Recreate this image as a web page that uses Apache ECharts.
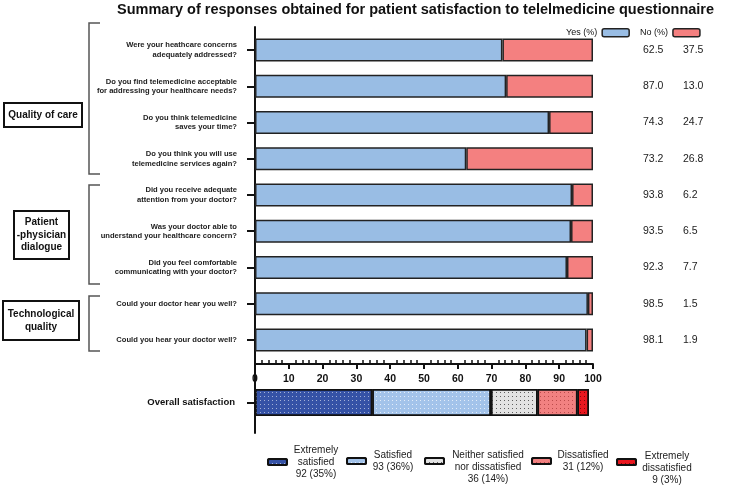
<!DOCTYPE html>
<html>
<head>
<meta charset="utf-8">
<script src="https://cdn.jsdelivr.net/npm/echarts@6/dist/echarts.min.js"></script>
<style>html,body{margin:0;padding:0;background:#fff}#c{width:750px;height:485px}</style>
</head>
<body>
<div id="c"></div>
<script>
var questions = [
  'Were your heathcare concerns\nadequately addressed?',
  'Do you find telemedicine acceptable\nfor addressing your healthcare needs?',
  'Do you think telemedicine\nsaves your time?',
  'Do you think you will use\ntelemedicine services again?',
  'Did you receive adequate\nattention from your doctor?',
  'Was your doctor able to\nunderstand your healthcare concern?',
  'Did you feel comfortable\ncommunicating with your doctor?',
  'Could your doctor hear you well?',
  'Could you hear your doctor well?'
];
var yesBar = [73.2, 74.3, 87.0, 62.5, 93.8, 93.5, 92.3, 98.5, 98.1];
var noBar  = [26.8, 25.7, 13.0, 37.5, 6.2, 6.5, 7.7, 1.5, 1.9];
var yesText = ['62.5', '87.0', '74.3', '73.2', '93.8', '93.5', '92.3', '98.5', '98.1'];
var noText  = ['37.5', '13.0', '24.7', '26.8', '6.2', '6.5', '7.7', '1.5', '1.9'];
var xTicks = [0, 10, 20, 30, 40, 50, 60, 70, 80, 90, 100];

var overallCategory = ['Overall satisfaction'];
var satNames = ['Extremely satisfied', 'Satisfied', 'Neither satisfied nor dissatisfied', 'Dissatisfied', 'Extremely dissatisfied'];
var satLines = [['Extremely', 'satisfied'], ['Satisfied'], ['Neither satisfied', 'nor dissatisfied'], ['Dissatisfied'], ['Extremely', 'dissatisfied']];
var satCounts = [92, 93, 36, 31, 9];
var satPct = [35, 36, 14, 12, 3];
var satShare = [34.7, 35.1, 13.8, 11.8, 3.4];

var groupNames = ['Quality of care', 'Patient\n-physician\ndialogue', 'Technological\nquality'];

var satColors = ['#3552a6', '#a3c3ea', '#e3e3e3', '#f28181', '#e9171f'];
var satDots = ['rgba(255,255,255,0.55)', 'rgba(255,255,255,0.7)', 'rgba(60,60,60,0.8)', 'rgba(150,40,40,0.6)', 'rgba(90,0,0,0.7)'];
var legendLeft = [267, 346, 424, 531, 616];
var legendTop = [445, 450, 450, 450, 451];
var legendW = [48, 44, 78, 54, 52];
var legendPadTop = [0, 0, 12, 0, 12];

var chart = echarts.init(document.getElementById('c'), null, {renderer: 'canvas'});
var FONT = 'Liberation Sans, Arial, sans-serif';

var series = [
  {name: 'Yes (%)', type: 'bar', stack: 'yn', xAxisIndex: 0, yAxisIndex: 0, barWidth: 23, data: yesBar,
   itemStyle: {color: '#99bde4', borderColor: '#222', borderWidth: 1.5}, emphasis: {disabled: true}},
  {name: 'No (%)', type: 'bar', stack: 'yn', xAxisIndex: 0, yAxisIndex: 0, barWidth: 23, data: noBar,
   itemStyle: {color: '#f48080', borderColor: '#222', borderWidth: 1.5}, emphasis: {disabled: true}}
];
satNames.forEach(function (n, i) {
  series.push({
    name: n, type: 'bar', stack: 'ov', xAxisIndex: 2, yAxisIndex: 3, barWidth: 27,
    data: [satShare[i]],
    itemStyle: {
      color: satColors[i], borderColor: '#111', borderWidth: 1.5,
      decal: {symbol: 'rect', symbolSize: 1, dashArrayX: [1, 3], dashArrayY: [1, 3], color: satDots[i], rotation: 0}
    },
    emphasis: {disabled: true}
  });
});

var legends = [{
  data: ['Yes (%)', 'No (%)'], left: 566, top: 28, padding: 0, align: 'right', itemWidth: 27, itemHeight: 8, itemGap: 10,
  textStyle: {fontSize: 9, color: '#111', fontFamily: FONT}, selectedMode: false,
  itemStyle: {borderColor: '#222', borderWidth: 1.5}
}];
satNames.forEach(function (n, i) {
  legends.push({
    data: [n], left: legendLeft[i], top: legendTop[i], padding: 0, itemWidth: 19, itemHeight: 6, selectedMode: false,
    itemStyle: {borderColor: '#111', borderWidth: 2},
    formatter: function () {
      var lines = satLines[i].concat([satCounts[i] + ' (' + satPct[i] + '%)']);
      return lines.map(function (l) { return '{c|' + l + '}'; }).join('\n');
    },
    textStyle: {
      padding: [legendPadTop[i], 0, 0, 0],
      rich: {c: {width: legendW[i], align: 'center', fontSize: 10, lineHeight: 12, color: '#222', fontFamily: FONT}}
    }
  });
});

var graphics = [];
var brackets = [[23, 174], [185, 284], [296, 351]];
brackets.forEach(function (b) {
  graphics.push({type: 'polyline', shape: {points: [[100, b[0]], [89, b[0]], [89, b[1]], [100, b[1]]]},
    style: {stroke: '#555', lineWidth: 1.5, fill: null}});
});
var boxes = [[4, 103, 78, 24], [14, 211, 55, 48], [3, 301, 76, 39]];
boxes.forEach(function (bx, i) {
  graphics.push({type: 'rect', shape: {x: bx[0], y: bx[1], width: bx[2], height: bx[3]},
    style: {stroke: '#111', lineWidth: 2, fill: '#fff'}});
  graphics.push({type: 'text', x: bx[0] + bx[2] / 2, y: bx[1] + bx[3] / 2,
    style: {text: groupNames[i], align: 'center', verticalAlign: 'middle', fontSize: 10, fontWeight: 'bold',
      lineHeight: 12.5, fill: '#111', fontFamily: FONT}});
});

var option = {
  animation: false,
  backgroundColor: '#fff',
  textStyle: {fontFamily: FONT},
  title: {text: 'Summary of responses obtained for patient satisfaction to telelmedicine questionnaire',
    left: 117, top: 2, padding: 0, textStyle: {fontSize: 14.5, fontWeight: 'bold', color: '#111', fontFamily: FONT}},
  legend: legends,
  grid: [
    {left: 255, width: 338, top: 32, height: 326, outerBoundsMode: 'none', containLabel: false},
    {left: 255, width: 338, top: 375, height: 55, outerBoundsMode: 'none', containLabel: false},
    {left: 255, width: 338, top: 27, height: 406, outerBoundsMode: 'none', containLabel: false}
  ],
  xAxis: [
    {gridIndex: 0, type: 'value', min: xTicks[0], max: xTicks[xTicks.length - 1], interval: 10, position: 'bottom', offset: 6,
     axisLine: {show: true, lineStyle: {color: '#111', width: 2}},
     axisTick: {show: true, length: 5, lineStyle: {color: '#111', width: 2}},
     minorTick: {show: false},
     splitLine: {show: false},
     axisLabel: {show: true, fontSize: 10.5, fontWeight: 'bold', color: '#111', margin: 10, fontFamily: FONT,
       showMinLabel: true, showMaxLabel: true, hideOverlap: false}},
    {gridIndex: 0, type: 'value', min: xTicks[0], max: xTicks[xTicks.length - 1], interval: 10, position: 'bottom', offset: 6,
     axisLine: {show: false}, axisLabel: {show: false}, splitLine: {show: false},
     axisTick: {show: false, inside: true},
     minorTick: {show: true, splitNumber: 5, length: 4, lineStyle: {color: '#111', width: 1.5}}},
    {gridIndex: 1, type: 'value', min: 0, max: 100, show: false},
    {gridIndex: 2, type: 'value', min: 0, max: 100, show: false}
  ],
  yAxis: [
    {gridIndex: 0, type: 'category', inverse: true, data: questions,
     axisLine: {show: false},
     axisTick: {show: true, length: 8, alignWithLabel: true, lineStyle: {color: '#111', width: 2}},
     axisLabel: {fontSize: 7.6, fontWeight: 'bold', color: '#222', lineHeight: 9.5, margin: 18, align: 'right', fontFamily: FONT, interval: 0}},
    {gridIndex: 0, type: 'category', inverse: true, data: yesText, position: 'right', offset: 42,
     axisLine: {show: false}, axisTick: {show: false},
     axisLabel: {fontSize: 10.5, color: '#222', margin: 8, align: 'left', fontFamily: FONT, interval: 0}},
    {gridIndex: 0, type: 'category', inverse: true, data: noText, position: 'right', offset: 82,
     axisLine: {show: false}, axisTick: {show: false},
     axisLabel: {fontSize: 10.5, color: '#222', margin: 8, align: 'left', fontFamily: FONT, interval: 0}},
    {gridIndex: 1, type: 'category', data: overallCategory,
     axisLine: {show: false},
     axisTick: {show: true, length: 8, alignWithLabel: true, lineStyle: {color: '#111', width: 2}},
     axisLabel: {fontSize: 9.5, fontWeight: 'bold', color: '#111', margin: 20, fontFamily: FONT}},
    {gridIndex: 2, type: 'value', min: 0, max: 1,
     axisLine: {show: true, lineStyle: {color: '#111', width: 2}},
     axisTick: {show: false}, axisLabel: {show: false}, splitLine: {show: false}}
  ],
  series: series,
  graphic: graphics
};
chart.setOption(option);
</script>
</body>
</html>
